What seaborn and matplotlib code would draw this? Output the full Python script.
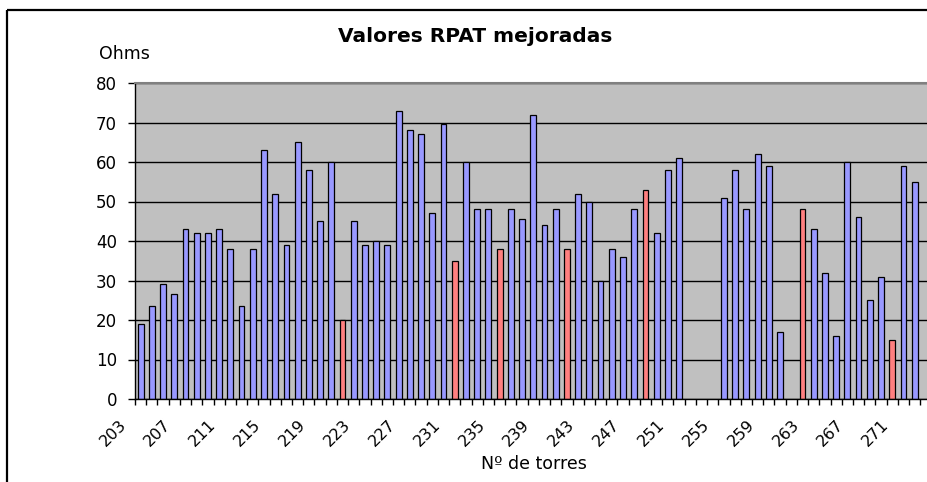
import numpy as np
import pandas as pd
import matplotlib
matplotlib.use("Agg")
import matplotlib.pyplot as plt
import matplotlib.transforms as mtransforms
from matplotlib.lines import Line2D
import seaborn as sns

# Data
torres = list(range(203, 273))
ohms = [19, 23.5, 29, 26.5, 43, 42, 42, 43, 38, 23.5,
        38, 63, 52, 39, 65, 58, 45, 60, 20, 45,
        39, 40, 39, 73, 68, 67, 47, 69.5, 35, 60,
        48, 48, 38, 48, 45.5, 72, 44, 48, 38, 52,
        50, 30, 38, 36, 48, 53, 42, 58, 61, np.nan,
        np.nan, np.nan, 51, 58, 48, 62, 59, 17, np.nan, 48,
        43, 32, 16, 60, 46, 25, 31, 15, 59, 55]
mejoradas = [221, 231, 235, 241, 248, 262, 270]
etiquetas = [str(t) if (t - 203) % 4 == 0 else "" for t in torres]

df = pd.DataFrame({
    "torre": [str(t) for t in torres],
    "ohms": ohms,
    "tipo": ["mejorada" if t in mejoradas else "normal" for t in torres],
})

sns.set_style("ticks")
plt.rcParams["font.family"] = ["DejaVu Sans"]
plt.rcParams["text.color"] = "black"
plt.rcParams["xtick.color"] = "black"
plt.rcParams["ytick.color"] = "black"

W, H = 927, 482
fig = plt.figure(figsize=(W / 100, H / 100), dpi=100)
ax = fig.add_axes([135 / W, (H - 399) / H, 792 / W, 316 / H])

sns.barplot(data=df, x="torre", y="ohms", hue="tipo", order=df["torre"],
            palette={"normal": "#9999ff", "mejorada": "#ff8080"},
            saturation=1, dodge=False, width=0.52, edgecolor="black",
            linewidth=0.9, legend=False, ax=ax)

ax.set_facecolor("#c0c0c0")
ax.set_ylim(0, 80)
ax.set_xlim(-0.45, 70.1)
ax.set_yticks(range(0, 81, 10))
ax.yaxis.grid(True, color="black", linewidth=1.0)
ax.set_axisbelow(True)
ax.set_xlabel("")
ax.set_ylabel("")

# category ticks between bars, labels every 4 towers
ax.set_xticks(range(len(torres)))
ax.set_xticklabels(etiquetas, rotation=45, ha="right", va="center",
                   rotation_mode="anchor", fontsize=11.5)
ax.set_xticks(np.arange(-0.5, len(torres), 1), minor=True)
ax.tick_params(axis="x", which="major", length=0, pad=0)
ax.tick_params(axis="x", which="minor", length=4, width=1, color="black", direction="out")
ax.tick_params(axis="y", length=5, width=1, color="black", direction="out", pad=8, labelsize=12)
offset = mtransforms.ScaledTranslation(-0.17, -0.23, fig.dpi_scale_trans)
for lab in ax.get_xticklabels():
    lab.set_transform(lab.get_transform() + offset)

for side in ["left", "bottom"]:
    ax.spines[side].set_color("black")
    ax.spines[side].set_linewidth(1.0)
ax.spines["top"].set_visible(True)
ax.spines["top"].set_color("#808080")
ax.spines["top"].set_linewidth(1.5)
ax.spines["right"].set_visible(False)

fig.text(475 / W, 1 - 37 / H, "Valores RPAT mejoradas", ha="center", va="center",
         fontsize=14.5, fontweight="bold")
fig.text(124 / W, 1 - 54 / H, "Ohms", ha="center", va="center", fontsize=12.5)
fig.text(534 / W, 1 - 464 / H, "Nº de torres", ha="center", va="center", fontsize=12.5)

# outer chart border (top and left visible)
fig.add_artist(Line2D([7 / W, 1], [1 - 10 / H, 1 - 10 / H], color="black", linewidth=1.6,
                      solid_capstyle="butt", transform=fig.transFigure))
fig.add_artist(Line2D([7 / W, 7 / W], [0, 1 - 10 / H], color="black", linewidth=1.6,
                      solid_capstyle="butt", transform=fig.transFigure))

fig.savefig("out.png", dpi=100)
